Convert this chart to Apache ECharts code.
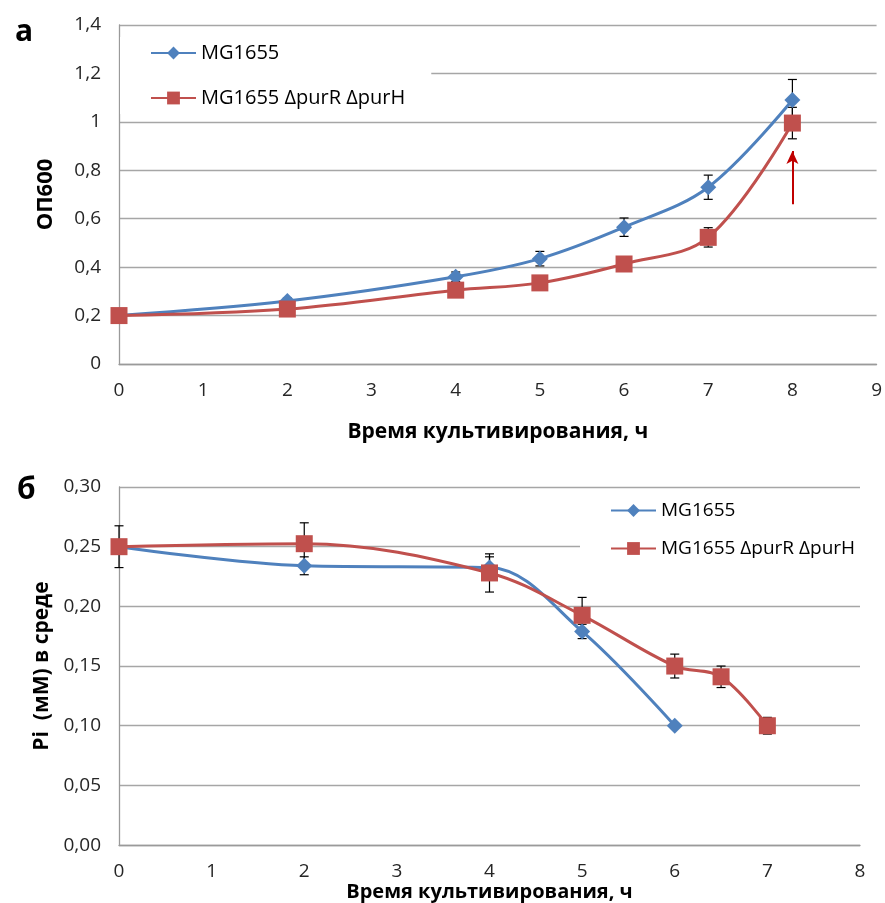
<!DOCTYPE html>
<html><head><meta charset="utf-8">
<script src="https://cdn.jsdelivr.net/npm/echarts@6/dist/echarts.min.js"></script>
<style>html,body{margin:0;padding:0;background:#fff}#c{width:885px;height:903px}</style>
</head><body><div id="c"></div>
<script>
// ---- Panel a: OD600 ----
const hoursA = [0, 2, 4, 5, 6, 7, 8];
const wildA = [0.2, 0.26, 0.36, 0.435, 0.565, 0.73, 1.09];
const mutA = [0.2, 0.227, 0.305, 0.335, 0.413, 0.523, 0.995];
const wildErrA = [0.005, 0.012, 0.02, 0.03, 0.038, 0.05, 0.085];
const mutErrA = [0.004, 0.006, 0.008, 0.008, 0.01, 0.04, 0.065];
const arrowA = [8, 0.66, 0.88];
// ---- Panel б: Pi ----
const hoursWildB = [0, 2, 4, 5, 6];
const wildB = [0.25, 0.234, 0.2325, 0.179, 0.10];
const wildErrB = [0.0175, 0.0075, 0.009, 0.006, 0];
const hoursMutB = [0, 2, 4, 5, 6, 6.5, 7];
const mutB = [0.25, 0.2525, 0.228, 0.1925, 0.15, 0.141, 0.10];
const mutErrB = [0.004, 0.0175, 0.016, 0.015, 0.01, 0.009, 0.007];

const names = ['MG1655', 'MG1655 ΔpurR ΔpurH'];
const BLUE = '#4F81BD', RED = '#C0504D';
const FONT = 'Open Sans';

function pairs(xs, ys) { return xs.map((x, i) => [x, ys[i]]); }
function errs(xs, ys, es) { return xs.map((x, i) => [x, ys[i], es[i]]); }
function errRender(params, api) {
  const x = api.value(0), y = api.value(1), e = api.value(2);
  if (!e) return null;
  const t = api.coord([x, y + e]), b = api.coord([x, y - e]);
  const w = 4.5, st = { stroke: '#000', lineWidth: 1.2 };
  return { type: 'group', children: [
    { type: 'line', shape: { x1: t[0], y1: t[1], x2: b[0], y2: b[1] }, style: st },
    { type: 'line', shape: { x1: t[0] - w, y1: t[1], x2: t[0] + w, y2: t[1] }, style: st },
    { type: 'line', shape: { x1: b[0] - w, y1: b[1], x2: b[0] + w, y2: b[1] }, style: st }
  ]};
}

const axisLine = { show: true, lineStyle: { color: '#9a9a9a', width: 1.3 } };
const splitLine = { show: true, lineStyle: { color: '#a6a6a6', width: 1.3 } };
const tickLabel = { color: '#262626', fontSize: 19, fontFamily: FONT };
const nameStyle = (s) => ({ color: '#000', fontSize: s, fontWeight: 'bold', fontFamily: FONT });

const chart = echarts.init(document.getElementById('c'), null, { renderer: 'canvas' });
chart.setOption({
  animation: false,
  backgroundColor: '#fff',
  title: [
    { text: 'а', left: 10, top: 12, textStyle: { fontSize: 30, fontWeight: 'bold', fontFamily: FONT, color: '#000' } },
    { text: 'б', left: 12, top: 470, textStyle: { fontSize: 30, fontWeight: 'bold', fontFamily: FONT, color: '#000' } }
  ],
  grid: [
    { left: 119, top: 25, width: 761, height: 339 },
    { left: 119, top: 487, width: 741, height: 360 }
  ],
  legend: [
    { data: names, orient: 'vertical', left: 120, top: 37, itemWidth: 45, itemHeight: 16, itemGap: 25,
      backgroundColor: '#fff', padding: [6, 26, 6, 30],
      textStyle: { fontSize: 20, fontFamily: FONT, color: '#000' } },
    { data: names, orient: 'vertical', left: 580, top: 497, itemWidth: 45, itemHeight: 16, itemGap: 19,
      backgroundColor: '#fff', padding: [4, 8, 4, 30],
      textStyle: { fontSize: 19, fontFamily: FONT, color: '#000' } }
  ],
  xAxis: [
    { type: 'value', gridIndex: 0, min: 0, max: 9, interval: 1, axisLine, splitLine: { show: false },
      axisTick: { show: false }, axisLabel: { ...tickLabel, margin: 17 },
      name: 'Время культивирования, ч', nameLocation: 'middle', nameGap: 58, nameTextStyle: nameStyle(21) },
    { type: 'value', gridIndex: 1, min: 0, max: 8, interval: 1, axisLine, splitLine: { show: false },
      axisTick: { show: false }, axisLabel: { ...tickLabel, margin: 17 },
      name: 'Время культивирования, ч', nameLocation: 'middle', nameGap: 33, nameTextStyle: nameStyle(20) }
  ],
  yAxis: [
    { type: 'value', gridIndex: 0, min: 0, max: 1.4, interval: 0.2, axisLine, splitLine,
      axisTick: { show: false },
      axisLabel: { ...tickLabel, margin: 18, formatter: v => String(Math.round(v * 10) / 10).replace('.', ',') },
      name: 'ОП600', nameLocation: 'middle', nameGap: 62, nameTextStyle: nameStyle(22) },
    { type: 'value', gridIndex: 1, min: 0, max: 0.3, interval: 0.05, axisLine, splitLine,
      axisTick: { show: false },
      axisLabel: { ...tickLabel, margin: 18, formatter: v => v.toFixed(2).replace('.', ',') },
      name: 'Pi  (мМ) в среде', nameLocation: 'middle', nameGap: 63, nameTextStyle: nameStyle(21) }
  ],
  series: [
    { type: 'custom', xAxisIndex: 0, yAxisIndex: 0, renderItem: errRender, z: 1,
      data: errs(hoursA, wildA, wildErrA), encode: { x: 0, y: 1 }, silent: true },
    { type: 'custom', xAxisIndex: 0, yAxisIndex: 0, renderItem: errRender, z: 1,
      data: errs(hoursA, mutA, mutErrA), encode: { x: 0, y: 1 }, silent: true },
    { name: names[0], type: 'line', xAxisIndex: 0, yAxisIndex: 0, smooth: 0.35, z: 3,
      data: pairs(hoursA, wildA), symbol: 'diamond', symbolSize: 16,
      lineStyle: { color: BLUE, width: 3 }, itemStyle: { color: BLUE } },
    { name: names[1], type: 'line', xAxisIndex: 0, yAxisIndex: 0, smooth: 0.35, z: 3,
      data: pairs(hoursA, mutA), symbol: 'rect', symbolSize: 17,
      lineStyle: { color: RED, width: 3 }, itemStyle: { color: RED },
      markLine: { silent: true, symbol: ['none', 'arrow'], symbolSize: [9, 13],
        lineStyle: { color: '#C00000', width: 2, type: 'solid' }, label: { show: false },
        data: [[{ coord: [arrowA[0], arrowA[1]] }, { coord: [arrowA[0], arrowA[2]] }]] } },
    { type: 'custom', xAxisIndex: 1, yAxisIndex: 1, renderItem: errRender, z: 1,
      data: errs(hoursWildB, wildB, wildErrB), encode: { x: 0, y: 1 }, silent: true },
    { type: 'custom', xAxisIndex: 1, yAxisIndex: 1, renderItem: errRender, z: 1,
      data: errs(hoursMutB, mutB, mutErrB), encode: { x: 0, y: 1 }, silent: true },
    { name: names[0], type: 'line', xAxisIndex: 1, yAxisIndex: 1, smooth: 0.35, z: 3,
      data: pairs(hoursWildB, wildB), symbol: 'diamond', symbolSize: 16,
      lineStyle: { color: BLUE, width: 3 }, itemStyle: { color: BLUE } },
    { name: names[1], type: 'line', xAxisIndex: 1, yAxisIndex: 1, smooth: 0.35, z: 3,
      data: pairs(hoursMutB, mutB), symbol: 'rect', symbolSize: 17,
      lineStyle: { color: RED, width: 3 }, itemStyle: { color: RED } }
  ]
});
</script></body></html>
